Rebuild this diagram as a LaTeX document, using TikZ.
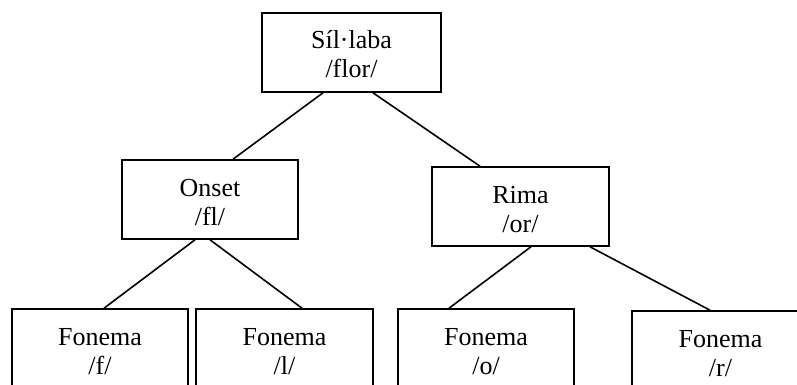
\documentclass[tikz,border=0pt]{standalone}
\usepackage{fontspec}
\setmainfont{Liberation Serif}
\usepackage{tikz}
\tikzset{caixa/.style={draw, line width=1.6pt, minimum height=79pt, inner sep=0pt,
  align=center, font=\fontsize{26}{29}\selectfont}}
\newcommand{\dues}[2]{\rule{0pt}{28pt}#1\\#2\rule[-6pt]{0pt}{6pt}}

\begin{document}
\begin{tikzpicture}[x=1pt,y=-1pt]
\clip (0,0) rectangle (797,385);
\coordinate (p0) at (351.5,52.5);
\coordinate (p1) at (210,199.5);
\coordinate (p2) at (520.5,206.5);
\coordinate (q1) at (100,348.5);
\coordinate (q2) at (284.5,348.5);
\coordinate (q3) at (486,348.5);
\coordinate (q4) at (720.5,350.5);
\node[caixa, minimum width=179pt] (sil) at (p0) {\dues{Síl·laba}{/flor/}};
\node[caixa, minimum width=176pt] (onset) at (p1) {\dues{Onset}{/fl/}};
\node[caixa, minimum width=177pt] (rima) at (p2) {\dues{Rima}{/or/}};
\node[caixa, minimum width=176pt] (f) at (q1) {\dues{Fonema}{/f/}};
\node[caixa, minimum width=177pt] (l) at (q2) {\dues{Fonema}{/l/}};
\node[caixa, minimum width=176pt] (o) at (q3) {\dues{Fonema}{/o/}};
\node[caixa, minimum width=177pt] (r) at (q4) {\dues{Fonema}{/r/}};
\draw[line width=1.6pt] ([xshift=-28.5pt]sil.south) -- ([xshift=23pt]onset.north)
  ([xshift=21.5pt]sil.south) -- ([xshift=-40.5pt]rima.north);
\draw[line width=1.6pt] ([xshift=-15pt]onset.south) -- ([xshift=4pt]f.north)
  (onset.south) -- ([xshift=17.5pt]l.north);
\draw[line width=1.6pt] ([xshift=10.5pt]rima.south) -- ([xshift=-37pt]o.north)
  ([xshift=69.5pt]rima.south) -- ([xshift=-10.5pt]r.north);
\end{tikzpicture}
\end{document}
